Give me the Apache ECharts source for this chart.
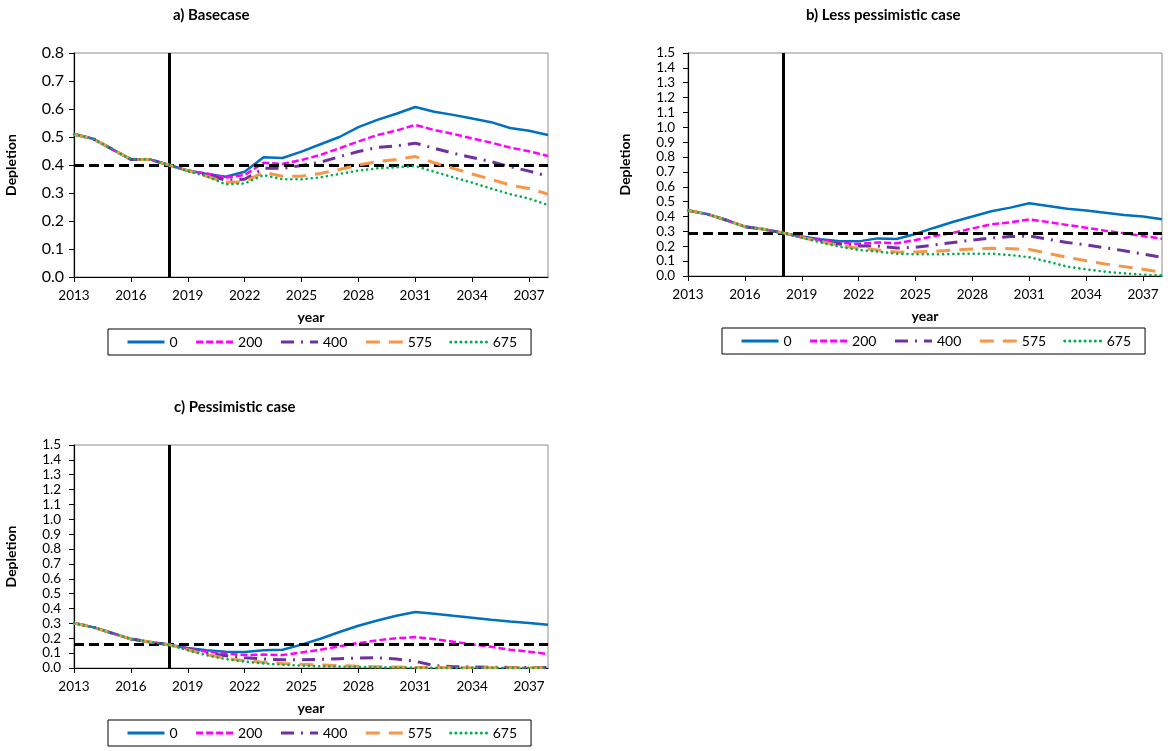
<!DOCTYPE html>
<html>
<head>
<meta charset="utf-8">
<script src="https://cdn.jsdelivr.net/npm/echarts@6/dist/echarts.min.js"></script>
<style>
  html, body { margin: 0; padding: 0; background: #fff; }
  #chart { width: 1168px; height: 751px; }
</style>
</head>
<body>
<div id="chart"></div>
<script>
// Years on the horizontal axis
const years = ['2013','2014','2015','2016','2017','2018','2019','2020','2021','2022','2023','2024','2025',
  '2026','2027','2028','2029','2030','2031','2032','2033','2034','2035','2036','2037','2038'];

// Scenario names (catch levels)
const scenarioNames = ['0', '200', '400', '575', '675'];

// a) Basecase
const baseCatch0   = [0.51,0.494,0.457,0.42,0.42,0.40, 0.38,0.368,0.358,0.376,0.428,0.425,0.448,0.474,0.50,0.535,0.561,0.583,0.607,0.59,0.579,0.566,0.553,0.532,0.522,0.507];
const baseCatch200 = [0.51,0.494,0.457,0.42,0.42,0.40, 0.38,0.37,0.355,0.364,0.408,0.404,0.418,0.436,0.46,0.484,0.507,0.523,0.543,0.525,0.511,0.495,0.48,0.462,0.449,0.432];
const baseCatch400 = [0.51,0.494,0.457,0.42,0.42,0.40, 0.38,0.365,0.346,0.349,0.388,0.388,0.398,0.41,0.43,0.448,0.463,0.468,0.478,0.46,0.442,0.427,0.412,0.394,0.378,0.36];
const baseCatch575 = [0.51,0.494,0.457,0.42,0.42,0.40, 0.38,0.36,0.338,0.34,0.374,0.36,0.36,0.37,0.384,0.40,0.412,0.42,0.43,0.408,0.388,0.368,0.349,0.328,0.316,0.296];
const baseCatch675 = [0.51,0.494,0.457,0.42,0.42,0.40, 0.378,0.36,0.331,0.334,0.364,0.349,0.349,0.356,0.368,0.38,0.388,0.392,0.396,0.376,0.356,0.337,0.316,0.296,0.28,0.257];
const baseRef = 0.4;

// b) Less pessimistic case
const lessCatch0   = [0.44,0.417,0.377,0.332,0.314,0.29, 0.265,0.247,0.233,0.233,0.253,0.249,0.283,0.325,0.365,0.40,0.435,0.46,0.489,0.471,0.453,0.44,0.426,0.41,0.40,0.381];
const lessCatch200 = [0.44,0.417,0.377,0.332,0.314,0.29, 0.26,0.242,0.224,0.215,0.226,0.22,0.242,0.269,0.291,0.32,0.348,0.361,0.381,0.363,0.343,0.325,0.305,0.287,0.269,0.251];
const lessCatch400 = [0.44,0.417,0.377,0.332,0.314,0.29, 0.26,0.235,0.215,0.202,0.202,0.188,0.193,0.209,0.226,0.242,0.256,0.265,0.269,0.247,0.226,0.209,0.19,0.17,0.148,0.126];
const lessCatch575 = [0.44,0.417,0.377,0.332,0.314,0.29, 0.26,0.23,0.206,0.186,0.175,0.161,0.161,0.166,0.175,0.182,0.186,0.184,0.179,0.152,0.126,0.103,0.081,0.063,0.045,0.025];
const lessCatch675 = [0.44,0.417,0.377,0.332,0.314,0.29, 0.258,0.226,0.197,0.175,0.164,0.15,0.146,0.146,0.148,0.15,0.15,0.141,0.126,0.096,0.063,0.045,0.029,0.018,0.009,0.004];
const lessRef = 0.29;

// c) Pessimistic case
const pessCatch0   = [0.302,0.275,0.235,0.195,0.175,0.157, 0.134,0.119,0.11,0.107,0.119,0.123,0.157,0.197,0.242,0.284,0.32,0.351,0.376,0.365,0.351,0.338,0.325,0.313,0.302,0.291];
const pessCatch200 = [0.302,0.275,0.235,0.195,0.175,0.157, 0.13,0.11,0.096,0.087,0.09,0.087,0.105,0.123,0.146,0.168,0.186,0.2,0.208,0.195,0.177,0.159,0.143,0.123,0.11,0.094];
const pessCatch400 = [0.302,0.275,0.235,0.195,0.175,0.157, 0.128,0.10,0.083,0.069,0.06,0.056,0.056,0.058,0.063,0.067,0.069,0.06,0.045,0.016,0.009,0.007,0.005,0.004,0.003,0.003];
const pessCatch575 = [0.302,0.275,0.235,0.195,0.175,0.157, 0.123,0.09,0.065,0.049,0.038,0.031,0.025,0.02,0.016,0.011,0.009,0.007,0.004,0.003,0.002,0.002,0.001,0.001,0.001,0.001];
const pessCatch675 = [0.302,0.275,0.235,0.195,0.175,0.157, 0.12,0.085,0.06,0.043,0.031,0.022,0.016,0.011,0.009,0.007,0.004,0.004,0.002,0.001,0.001,0.001,0.001,0.001,0.001,0.001];
const pessRef = 0.16;

// Year the projection starts
const projectionStart = '2018';

const FONT = 'Lato';

// Line look for each scenario
const lineLooks = [
  { color: '#0070C0', width: 2.5, type: 'solid', cap: 'butt' },
  { color: '#FF00FF', width: 2.5, type: [7, 3], cap: 'butt' },
  { color: '#7030A0', width: 3, type: [13, 7, 2, 7], cap: 'butt' },
  { color: '#F79646', width: 3, type: [14, 9], cap: 'butt' },
  { color: '#00B050', width: 2.6, type: [0.1, 5], cap: 'round' }
];

const panels = [
  { title: 'a) Basecase', titleLeft: 173, titleTop: 8, grid: { left: 74, top: 53, width: 474, height: 224 },
    yMax: 0.8, yFont: 16, ref: baseRef, data: [baseCatch0, baseCatch200, baseCatch400, baseCatch575, baseCatch675],
    legend: { left: 108, top: 329 } },
  { title: 'b) Less pessimistic case', titleLeft: 806, titleTop: 8, grid: { left: 688, top: 53, width: 474, height: 223 },
    yMax: 1.5, yFont: 13.5, ref: lessRef, data: [lessCatch0, lessCatch200, lessCatch400, lessCatch575, lessCatch675],
    legend: { left: 722, top: 328 } },
  { title: 'c) Pessimistic case', titleLeft: 174, titleTop: 400, grid: { left: 74, top: 445, width: 474, height: 223 },
    yMax: 1.5, yFont: 13.5, ref: pessRef, data: [pessCatch0, pessCatch200, pessCatch400, pessCatch575, pessCatch675],
    legend: { left: 108, top: 720 } }
];

const option = {
  animation: false,
  backgroundColor: '#fff',
  textStyle: { fontFamily: FONT, color: '#000' },
  title: [], grid: [], xAxis: [], yAxis: [], legend: [], series: []
};

panels.forEach((p, i) => {
  option.title.push({
    text: p.title, left: p.titleLeft, top: p.titleTop, padding: 0,
    textStyle: { fontFamily: FONT, fontSize: 15, fontWeight: 'bold', color: '#000' }
  });
  option.grid.push(Object.assign({ show: true, borderColor: '#8c8c8c', borderWidth: 1, backgroundColor: 'transparent', containLabel: false }, p.grid));
  option.xAxis.push({
    type: 'category', gridIndex: i, data: years, boundaryGap: false,
    name: 'year', nameLocation: 'middle', nameGap: 33,
    nameTextStyle: { fontFamily: FONT, fontSize: 14, fontWeight: 'bold', color: '#000' },
    axisLine: { lineStyle: { color: '#000', width: 1.2 } },
    axisTick: { interval: 2, length: 5, lineStyle: { color: '#000' } },
    axisLabel: { interval: 2, margin: 12, fontSize: 13.5, color: '#000', fontFamily: FONT },
    splitLine: { show: false }
  });
  option.yAxis.push({
    type: 'value', gridIndex: i, min: 0, max: p.yMax, interval: 0.1,
    name: 'Depletion', nameLocation: 'middle', nameGap: 56, nameRotate: 90,
    nameTextStyle: { fontFamily: FONT, fontSize: 14, fontWeight: 'bold', color: '#000' },
    axisLine: { show: true, lineStyle: { color: '#000', width: 1.2 } },
    axisTick: { show: true, length: 5, lineStyle: { color: '#000' } },
    axisLabel: { margin: p.yFont > 15 ? 10 : 13, fontSize: p.yFont, color: '#000', fontFamily: FONT,
      formatter: v => v.toFixed(1) },
    splitLine: { show: false }
  });
  option.legend.push({
    data: scenarioNames, left: p.legend.left, top: p.legend.top,
    orient: 'horizontal', itemWidth: 37, itemHeight: 12, itemGap: 17,
    padding: [6, 14, 6, 18], borderColor: '#000', borderWidth: 1,
    lineStyle: { width: 3 },
    textStyle: { fontSize: 14, color: '#000', fontFamily: FONT },
    selectedMode: false
  });
  p.data.forEach((vals, k) => {
    const look = lineLooks[k];
    const s = {
      type: 'line', name: scenarioNames[k], xAxisIndex: i, yAxisIndex: i,
      data: vals, symbol: 'none', showSymbol: false, smooth: false,
      lineStyle: { color: look.color, width: look.width, type: look.type, cap: look.cap },
      // no point markers, so the legend keys show only the line
      itemStyle: { color: 'rgba(0,0,0,0)', borderWidth: 0 },
      z: 2 + k
    };
    if (k === 0) {
      s.markLine = {
        silent: true, symbol: 'none', animation: false, label: { show: false },
        data: [
          { yAxis: p.ref, lineStyle: { color: '#000', width: 3, type: [10, 5] } },
          { xAxis: projectionStart, lineStyle: { color: '#000', width: 3, type: 'solid' } }
        ]
      };
    }
    option.series.push(s);
  });
});

const chart = echarts.init(document.getElementById('chart'), null, { renderer: 'canvas' });
chart.setOption(option);
</script>
</body>
</html>
